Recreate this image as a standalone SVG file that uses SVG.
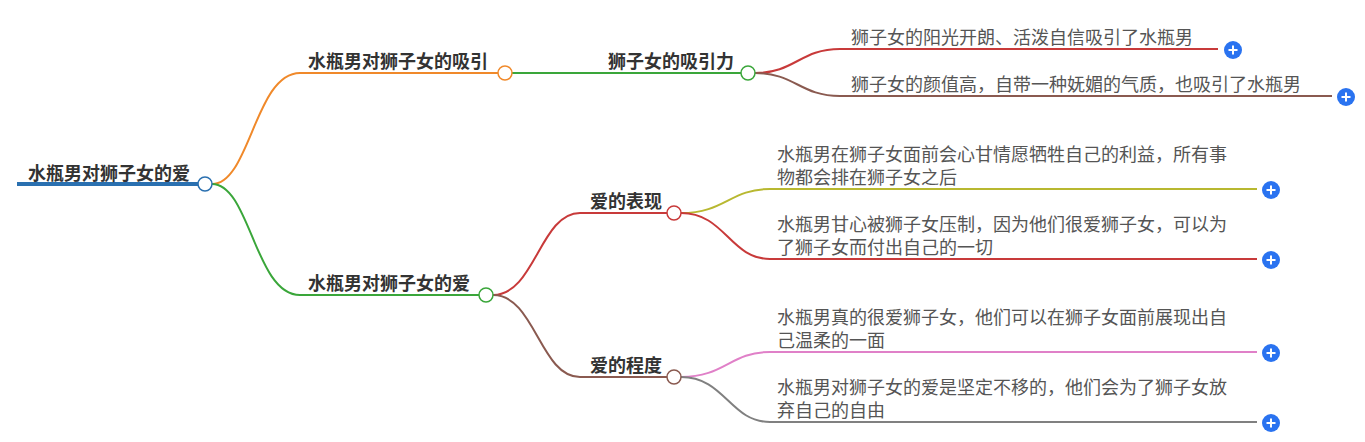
<svg xmlns="http://www.w3.org/2000/svg" width="1365" height="442" viewBox="0 0 1365 442">
<style>
.b{font-family:"Noto Sans CJK SC",sans-serif;font-weight:bold;font-size:18px;fill:#333}
.t{font-family:"Noto Sans CJK SC",sans-serif;font-size:18px;fill:#555}
.c{fill:none;stroke-width:2}
.n{fill:#fff;stroke-width:1.5}
</style>
<defs>
<g id="plus"><circle r="9" fill="#2a73f0"/><path d="M-4.5 0H4.5M0 -4.5V4.5" stroke="#fff" stroke-width="2"/></g>
</defs>
<g id="connectors">
<path d="M17 184H205" stroke="#2a70b0" stroke-width="4"/>
<path class="c" stroke="#f0892a" d="M212 184C250 184 255 73 300 73H498"/>
<path class="c" stroke="#3aa63a" d="M212 184C250 184 255 295 300 295H479"/>
<path class="c" stroke="#3aa63a" d="M512 73H741"/>
<path class="c" stroke="#c83a3a" d="M755 73C795 73 800 49 840 49H1218"/>
<path class="c" stroke="#8a5a50" d="M755 73C795 73 800 96 840 96H1332"/>
<path class="c" stroke="#c83a3a" d="M493 295C535 295 540 213 580 213H667"/>
<path class="c" stroke="#8a5a50" d="M493 295C535 295 540 377 580 377H667"/>
<path class="c" stroke="#b8b830" d="M681 213C725 213 730 189 770 189H1257"/>
<path class="c" stroke="#c83a3a" d="M681 213C725 213 730 259 770 259H1257"/>
<path class="c" stroke="#e080c8" d="M681 377C725 377 730 352 770 352H1257"/>
<path class="c" stroke="#808080" d="M681 377C725 377 730 422 770 422H1257"/>
</g>
<g id="root"><text class="b" x="28" y="180">水瓶男对狮子女的爱</text><circle class="n" stroke="#2a70b0" cx="205" cy="184" r="7"/></g>
<g id="n1"><text class="b" x="308" y="68">水瓶男对狮子女的吸引</text><circle class="n" stroke="#f0892a" cx="505" cy="73" r="7"/></g>
<g id="n2"><text class="b" x="308" y="290">水瓶男对狮子女的爱</text><circle class="n" stroke="#3aa63a" cx="486" cy="295" r="7"/></g>
<g id="n3"><text class="b" x="608" y="68">狮子女的吸引力</text><circle class="n" stroke="#3aa63a" cx="748" cy="73" r="7"/></g>
<g id="n4"><text class="t" x="851" y="44">狮子女的阳光开朗、活泼自信吸引了水瓶男</text><use href="#plus" x="1233" y="50"/></g>
<g id="n5"><text class="t" x="851" y="91">狮子女的颜值高，自带一种妩媚的气质，也吸引了水瓶男</text><use href="#plus" x="1346" y="97"/></g>
<g id="n6"><text class="b" x="590" y="208">爱的表现</text><circle class="n" stroke="#c83a3a" cx="674" cy="213" r="7"/></g>
<g id="n7"><text class="b" x="590" y="372">爱的程度</text><circle class="n" stroke="#8a5a50" cx="674" cy="377" r="7"/></g>
<g id="n8"><text class="t" x="777" y="161">水瓶男在狮子女面前会心甘情愿牺牲自己的利益，所有事</text><text class="t" x="777" y="184">物都会排在狮子女之后</text><use href="#plus" x="1271" y="190"/></g>
<g id="n9"><text class="t" x="777" y="231">水瓶男甘心被狮子女压制，因为他们很爱狮子女，可以为</text><text class="t" x="777" y="254">了狮子女而付出自己的一切</text><use href="#plus" x="1271" y="260"/></g>
<g id="n10"><text class="t" x="777" y="324">水瓶男真的很爱狮子女，他们可以在狮子女面前展现出自</text><text class="t" x="777" y="347">己温柔的一面</text><use href="#plus" x="1271" y="353"/></g>
<g id="n11"><text class="t" x="777" y="394">水瓶男对狮子女的爱是坚定不移的，他们会为了狮子女放</text><text class="t" x="777" y="417">弃自己的自由</text><use href="#plus" x="1271" y="423"/></g>
</svg>
